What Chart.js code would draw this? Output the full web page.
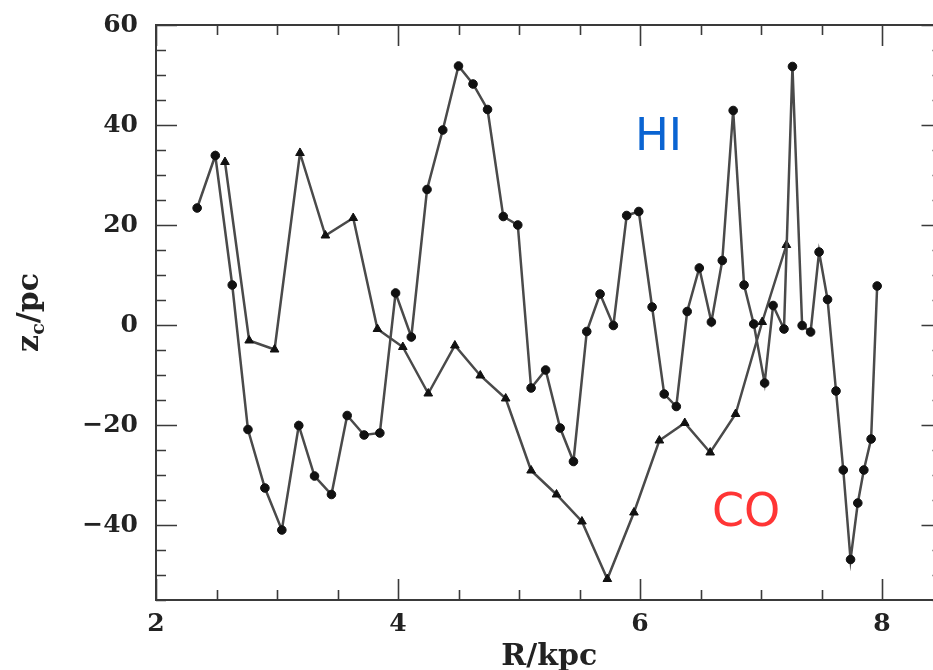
<!DOCTYPE html>
<html lang="en">
<head>
    <meta charset="UTF-8">
    <title>z_c versus R for HI and CO</title>
    <script src="https://cdn.jsdelivr.net/npm/chart.js"></script>
    <style>
        body {
            margin: 0;
            background: #ffffff;
        }

        #wrap {
            position: relative;
            width: 933px;
            height: 670px;
            overflow: hidden;
            background: #ffffff;
        }

        #chart {
            position: absolute;
            left: 0;
            top: 0;
        }

        .tag {
            position: absolute;
            font-family: 'DejaVu Sans', sans-serif;
            line-height: 1;
            white-space: nowrap;
        }

        #tagHI {
            left: 635px;
            top: 112px;
            font-size: 45px;
            color: #0a64d2;
        }

        #tagCO {
            left: 712px;
            top: 487px;
            font-size: 46px;
            color: #ff3535;
        }
    </style>
</head>
<body>
    <div id="wrap">
        <canvas id="chart" width="950" height="670"></canvas>
        <div class="tag" id="tagHI">HI</div>
        <div class="tag" id="tagCO">CO</div>
    </div>

    <script>
        // HI: filled circles
        const hiR = [2.34, 2.49, 2.63, 2.76, 2.90, 3.04, 3.18, 3.31, 3.45, 3.58, 3.72, 3.85,
                     3.98, 4.11, 4.24, 4.37, 4.50, 4.62, 4.74, 4.87, 4.99, 5.10, 5.22, 5.34,
                     5.45, 5.56, 5.67, 5.78, 5.89, 5.99, 6.10, 6.20, 6.30, 6.39, 6.49, 6.59,
                     6.68, 6.77, 6.86, 6.94, 7.03, 7.10, 7.19, 7.26, 7.34, 7.41, 7.48, 7.55,
                     7.62, 7.68, 7.74, 7.80, 7.85, 7.91, 7.96];
        const hiZ = [23.4, 33.9, 8.0, -20.9, -32.6, -41.0, -20.1, -30.2, -33.9, -18.1, -22.0, -21.6,
                     6.4, -2.4, 27.1, 39.0, 51.8, 48.2, 43.1, 21.7, 20.0, -12.6, -9.0, -20.6,
                     -27.3, -1.3, 6.2, -0.1, 21.9, 22.7, 3.6, -13.8, -16.3, 2.7, 11.4, 0.6,
                     12.9, 42.9, 8.0, 0.2, -11.6, 3.9, -0.8, 51.7, -0.1, -1.4, 14.6, 5.1,
                     -13.2, -29.0, -46.9, -35.6, -29.0, -22.8, 7.8];

        // CO: filled triangles
        const coR = [2.57, 2.77, 2.98, 3.19, 3.40, 3.63, 3.83, 4.04, 4.25, 4.47, 4.68, 4.89,
                     5.10, 5.31, 5.52, 5.73, 5.95, 6.16, 6.37, 6.58, 6.79, 7.01, 7.21];
        const coZ = [32.6, -3.1, -4.9, 34.4, 17.9, 21.4, -0.8, -4.4, -13.7, -4.1, -10.1, -14.7,
                     -29.1, -33.9, -39.3, -50.8, -37.5, -23.1, -19.6, -25.5, -17.8, 0.6, 16.0];

        const xMin = 2, xMax = 8.5, xMajor = 2, xMinor = 0.5;
        const yMin = -55, yMax = 60, yMajor = 20, yMinor = 5;

        const serif = "'DejaVu Serif', serif";
        const toPoints = (xs, ys) => xs.map((x, i) => ({ x: x, y: ys[i] }));

        // frame with inward ticks on all four sides, like the original plot
        const frameTicks = {
            id: 'frameTicks',
            beforeDatasetsDraw(chart) {
                const { ctx, chartArea: a, scales: { x, y } } = chart;
                ctx.save();
                ctx.strokeStyle = '#3a3a3a';
                ctx.lineWidth = 2;
                ctx.strokeRect(a.left, a.top, a.right - a.left, a.bottom - a.top);

                ctx.lineWidth = 1.6;
                ctx.beginPath();
                const nx = Math.round((xMax - xMin) / xMinor);
                for (let i = 0; i <= nx; i++) {
                    const v = xMin + i * xMinor;
                    const len = (i % (xMajor / xMinor) === 0) ? 21 : 10;
                    const px = Math.round(x.getPixelForValue(v)) + 0.5;
                    ctx.moveTo(px, a.bottom); ctx.lineTo(px, a.bottom - len);
                    ctx.moveTo(px, a.top); ctx.lineTo(px, a.top + len);
                }
                const ny = Math.round((yMax - yMin) / yMinor);
                for (let i = 0; i <= ny; i++) {
                    const v = yMin + i * yMinor;
                    const len = (v % yMajor === 0) ? 21 : 10;
                    const py = Math.round(y.getPixelForValue(v)) + 0.5;
                    ctx.moveTo(a.left, py); ctx.lineTo(a.left + len, py);
                    ctx.moveTo(a.right, py); ctx.lineTo(a.right - len, py);
                }
                ctx.stroke();
                ctx.restore();
            },
            afterDraw(chart) {
                // y title with a subscript c: z_c/pc
                const { ctx, chartArea: a } = chart;
                ctx.save();
                ctx.translate(38, (a.top + a.bottom) / 2);
                ctx.rotate(-Math.PI / 2);
                ctx.fillStyle = '#222';
                ctx.textBaseline = 'alphabetic';
                const big = 'bold 30px ' + serif;
                const small = 'bold 19px ' + serif;
                ctx.font = big;
                const wz = ctx.measureText('z').width;
                const wrest = ctx.measureText('/pc').width;
                ctx.font = small;
                const wc = ctx.measureText('c').width;
                let cx = -(wz + wc + wrest) / 2;
                ctx.font = big;
                ctx.fillText('z', cx, 0);
                cx += wz;
                ctx.font = small;
                ctx.fillText('c', cx, 6);
                cx += wc;
                ctx.font = big;
                ctx.fillText('/pc', cx, 0);
                ctx.restore();
            }
        };

        const lineStyle = {
            showLine: true,
            borderColor: '#4a4a4a',
            borderWidth: 2.5,
            backgroundColor: '#111111',
            pointBackgroundColor: '#111111',
            pointBorderColor: '#111111',
            pointBorderWidth: 1,
            tension: 0
        };

        new Chart(document.getElementById('chart'), {
            type: 'scatter',
            data: {
                datasets: [
                    Object.assign({ label: 'HI', data: toPoints(hiR, hiZ), pointStyle: 'circle', pointRadius: 4.3 }, lineStyle),
                    Object.assign({ label: 'CO', data: toPoints(coR, coZ), pointStyle: 'triangle', pointRadius: 5 }, lineStyle)
                ]
            },
            options: {
                responsive: false,
                animation: false,
                events: [],
                layout: { padding: { left: 0, top: 25, right: 7.5, bottom: 0 } },
                plugins: { legend: { display: false }, tooltip: { enabled: false } },
                scales: {
                    x: {
                        type: 'linear',
                        min: xMin,
                        max: xMax,
                        grid: { display: false, drawTicks: false },
                        border: { display: false },
                        ticks: {
                            stepSize: xMajor,
                            includeBounds: false,
                            padding: 9,
                            color: '#222',
                            font: { family: serif, size: 25, weight: 'bold' }
                        },
                        title: {
                            display: true,
                            text: 'R/kpc',
                            color: '#222',
                            padding: { top: 0, bottom: -2 },
                            font: { family: serif, size: 30, weight: 'bold', lineHeight: 1 }
                        },
                        afterFit(scale) {
                            scale.height = 70;
                            scale.paddingLeft = 0;
                            scale.paddingRight = 0;
                        }
                    },
                    y: {
                        type: 'linear',
                        min: yMin,
                        max: yMax,
                        grid: { display: false, drawTicks: false },
                        border: { display: false },
                        ticks: {
                            stepSize: yMajor,
                            includeBounds: false,
                            padding: 18,
                            color: '#222',
                            font: { family: serif, size: 25, weight: 'bold' },
                            callback: v => (v < 0 ? '\u2212' + Math.abs(v) : String(v))
                        },
                        afterFit(scale) {
                            scale.width = 156;
                            scale.paddingTop = 0;
                            scale.paddingBottom = 0;
                        }
                    }
                }
            },
            plugins: [frameTicks]
        });
    </script>
</body>
</html>
